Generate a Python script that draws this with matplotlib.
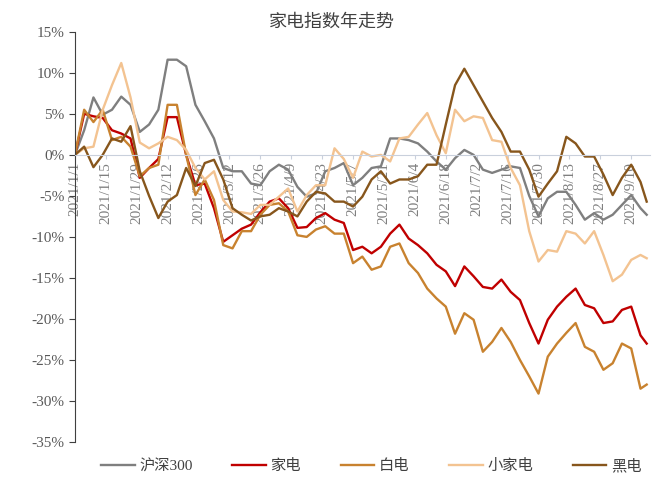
import numpy as np
import matplotlib
matplotlib.use('Agg')
import matplotlib.pyplot as plt

plt.rcParams['font.family'] = ['Liberation Serif', 'Noto Sans CJK SC', 'DejaVu Sans']
plt.rcParams['axes.unicode_minus'] = False

# trading-day index of each sampled point (every 3rd day, plus the last one)
x = np.r_[np.arange(0, 184, 3), 185]

tick_labels = ['2021/1/1', '2021/1/15', '2021/1/29', '2021/2/12', '2021/2/26', '2021/3/12',
               '2021/3/26', '2021/4/9', '2021/4/23', '2021/5/7', '2021/5/21', '2021/6/4',
               '2021/6/18', '2021/7/2', '2021/7/16', '2021/7/30', '2021/8/13', '2021/8/27',
               '2021/9/10']

hs300 = [0, 3, 7, 4.9, 5.5, 7.1, 6.1, 2.8, 3.7, 5.5,
         11.6, 11.6, 10.8, 6.1, 4.1, 2.0, -1.6, -2.0, -2.0, -3.5,
         -3.7, -2.0, -1.2, -1.8, -3.9, -5.1, -4.7, -2.0, -1.6, -1.0,
         -3.7, -2.8, -1.6, -1.4, 2.0, 2.0, 1.8, 1.4, 0.4, -0.8,
         -1.8, -0.4, 0.6, 0.0, -1.8, -2.2, -1.8, -1.4, -1.6, -5.0,
         -7.5, -5.3, -4.5, -4.5, -6.1, -7.9, -7.1, -7.9, -7.3, -6.1,
         -4.9, -6.5, -7.3]

jiadian = [0, 5.0, 4.7, 4.5, 3.0, 2.6, 2.0, -2.8, -1.6, -0.5,
           4.6, 4.6, 0.0, -3.7, -3.5, -6.5, -10.6, -9.8, -9.0, -8.5,
           -7.0, -5.7, -5.3, -6.5, -8.9, -8.8, -7.7, -7.1, -7.9, -8.3,
           -11.6, -11.2, -12.0, -11.2, -9.6, -8.5, -10.2, -11.0, -12.0, -13.4,
           -14.2, -16.0, -13.6, -14.8, -16.1, -16.3, -15.2, -16.7, -17.7, -20.5,
           -23.0, -20.1, -18.5, -17.3, -16.3, -18.3, -18.7, -20.5, -20.3, -18.9,
           -18.5, -22.0, -23.0]

baidian = [0, 5.5, 4.0, 5.5, 1.8, 2.2, 1.0, -2.6, -1.6, -1.2,
           6.1, 6.1, 0.0, -4.9, -3.0, -5.5, -11.0, -11.4, -9.3, -9.3,
           -7.3, -6.1, -5.9, -6.9, -9.8, -10.0, -9.1, -8.7, -9.6, -9.6,
           -13.2, -12.4, -14.0, -13.6, -11.2, -10.8, -13.2, -14.4, -16.3, -17.5,
           -18.5, -21.8, -19.3, -20.1, -24.0, -22.8, -21.1, -22.8, -25.0, -27.0,
           -29.1, -24.6, -23.0, -21.7, -20.5, -23.4, -24.0, -26.2, -25.4, -23.0,
           -23.6, -28.5, -28.0]

xiaojiadian = [0, 0.8, 1.0, 5.5, 8.5, 11.2, 7.0, 1.5, 0.8, 1.4,
               2.2, 1.8, 0.6, -1.6, -3.0, -2.0, -5.5, -6.9, -7.0, -7.2,
               -6.1, -6.1, -5.1, -4.1, -6.9, -4.9, -3.7, -3.7, 0.8, -0.5,
               -2.8, 0.4, -0.2, 0.0, -0.8, 2.0, 2.2, 3.7, 5.1, 2.4,
               0.2, 5.5, 4.1, 4.7, 4.5, 1.8, 1.6, -1.6, -3.7, -9.3,
               -13.0, -11.6, -11.8, -9.3, -9.6, -10.8, -9.3, -12.2, -15.4, -14.6,
               -12.8, -12.2, -12.6]

heidian = [0, 1.0, -1.5, 0.0, 2.0, 1.6, 3.5, -2.0, -5.0, -7.7,
           -5.7, -4.9, -1.6, -3.8, -1.0, -0.6, -3.0, -6.5, -7.3, -8.0,
           -7.5, -7.3, -6.5, -6.9, -7.5, -5.7, -4.5, -4.7, -5.7, -5.7,
           -6.3, -5.1, -3.0, -2.0, -3.5, -3.0, -3.0, -2.6, -1.2, -1.2,
           3.7, 8.5, 10.5, 8.5, 6.5, 4.5, 2.8, 0.4, 0.4, -1.8,
           -5.1, -3.5, -2.0, 2.2, 1.4, -0.2, -0.2, -2.4, -4.9, -2.8,
           -1.2, -3.3, -5.7]

series = [('沪深300', hs300, '#7f7f7f'),
          ('家电', jiadian, '#c00000'),
          ('白电', baidian, '#c8822f'),
          ('小家电', xiaojiadian, '#f3c391'),
          ('黑电', heidian, '#87561c')]

fig = plt.figure(figsize=(6.57, 4.82), dpi=100)
ax = fig.add_axes([0.114, 0.083, 0.875, 0.851])

for name, vals, col in series:
    ax.plot(x, vals, color=col, lw=1.7, label=name)

for s in ['top', 'right']:
    ax.spines[s].set_visible(False)
ax.spines['left'].set_color('#404040')
# x axis runs along the 0% line; setting the position resets tick labels,
# so ticks are configured afterwards
ax.spines['bottom'].set_position(('data', 0))
ax.spines['bottom'].set_color('#c9d0dc')

ax.set_xlim(0, 186)
ax.set_ylim(-35, 15)
ax.set_yticks(np.arange(-35, 16, 5))
ax.set_yticklabels([str(v) + '%' for v in range(-35, 16, 5)])
ax.set_xticks(np.arange(0, 181, 10))
ax.set_xticklabels(tick_labels, rotation=90, va='top', ha='center')

ax.tick_params(axis='y', direction='out', length=4, color='#404040',
               labelsize=11, labelcolor='#595959')
ax.tick_params(axis='x', direction='out', length=3, color='#c9d0dc',
               labelsize=11, labelcolor='#7f7f7f', pad=2)

fig.text(0.505, 0.955, '家电指数年走势', ha='center', va='center',
         fontsize=13, color='#404040', family=['Noto Sans CJK SC'])

fig.legend(loc='center', bbox_to_anchor=(0.565, 0.033), ncol=5, frameon=False,
           fontsize=11, handlelength=2.2, columnspacing=2.6, handletextpad=0.3,
           labelcolor='#404040')

fig.savefig('out.png', dpi=100)
